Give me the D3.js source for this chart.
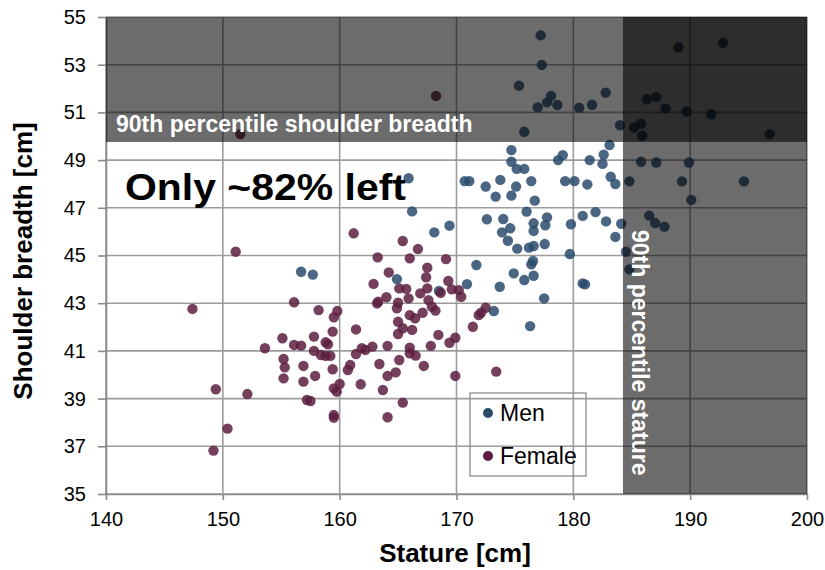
<!DOCTYPE html>
<html>
<head>
<meta charset="utf-8">
<script src="https://cdn.jsdelivr.net/npm/d3@7/dist/d3.min.js"></script>
<style>
  html, body { margin: 0; padding: 0; background: #fff; }
  svg { display: block; font-family: "Liberation Sans", Arial, sans-serif; }
</style>
</head>
<body>
<svg id="chart" width="825" height="570"></svg>
<script>
// Stature [cm] / shoulder breadth [cm] per subject
const menStature = [177.2,177.3,175.35,178.1,177.75,176.95,178.63,180.5,181.6,182.77,175.8,189.0,192.8,186.3,187.1,187.9,189.7,191.8,196.8,184.0,185.2,185.8,185.9,183.1,182.6,182.5,185.8,187.1,189.9,183.2,183.6,184.8,189.3,194.6,190.1,186.5,187.0,187.8,182.8,184.1,183.6,184.5,184.8,165.9,166.2,168.1,169.4,164.9,168.5,170.9,170.7,171.1,172.5,173.75,175.1,176.4,174.7,174.7,175.15,175.8,178.7,179.1,179.3,180.1,181.2,181.4,173.35,174.7,176.7,176.0,177.75,172.6,174.0,174.6,173.9,176.6,177.6,176.6,174.4,175.2,176.2,176.6,177.55,179.8,180.8,181.9,179.7,176.4,176.55,171.7,174.9,175.8,176.6,173.7,180.8,181.0,177.5,173.2,176.3,156.7,157.7];
const menBreadth = [54.23,52.99,52.12,51.69,51.42,51.21,51.31,51.2,51.32,51.83,50.19,53.73,53.92,51.55,51.65,51.16,51.03,50.92,50.09,50.46,50.37,50.53,50.02,49.63,49.23,48.84,48.93,48.9,48.9,48.3,48.0,48.11,48.11,48.11,47.33,46.67,46.36,46.21,46.43,46.33,45.78,45.16,44.42,48.24,46.85,45.97,46.25,44.01,43.51,43.8,48.12,48.12,47.89,48.17,47.89,48.12,49.42,48.93,48.63,48.63,49.0,49.21,48.12,48.12,47.98,49.0,47.47,47.51,47.3,46.84,46.6,46.52,46.53,46.14,45.97,46.35,46.27,46.03,45.62,45.29,45.33,45.4,45.48,46.31,46.66,46.82,45.06,44.63,44.77,44.6,44.25,43.97,44.15,43.69,43.83,43.79,43.2,42.67,42.04,44.32,44.2];

const femaleStature = [151.5,168.25,161.2,151.1,147.4,156.1,158.2,159.8,159.5,159.4,161.4,155.1,157.8,153.6,156.1,156.7,157.8,158.8,159.0,155.2,155.3,155.2,156.9,156.9,157.9,158.4,158.8,159.2,159.4,159.5,159.75,160.0,157.2,157.5,159.5,159.5,149.4,152.1,150.4,149.2,160.7,160.9,161.4,161.8,161.9,162.2,162.8,164.1,163.4,164.1,164.8,165.1,166.0,166.5,167.2,163.7,165.4,164.1,167.8,169.4,169.9,173.4,165.4,166.7,166.0,163.25,169.1,164.2,167.5,167.4,162.9,165.1,165.7,167.5,169.3,169.6,170.2,170.4,168.65,163.3,163.2,164.0,165.9,166.9,165.0,164.9,167.6,167.9,168.2,167.1,166.0,166.45,165.0,165.4,166.2,165.0,168.45,169.9,171.4,171.9,172.1,172.5,166.0];
const femaleBreadth = [50.09,51.69,45.93,45.16,42.76,43.04,42.71,42.67,42.41,41.81,41.9,41.53,41.6,41.11,41.25,41.22,41.0,41.36,41.28,40.66,40.31,39.85,40.37,39.71,39.95,40.83,40.79,40.79,40.23,39.43,39.29,39.61,38.94,38.9,38.31,38.2,39.39,39.19,37.74,36.82,40.2,40.41,40.87,39.6,41.11,41.04,41.18,41.21,40.45,39.95,40.1,40.62,40.9,40.8,40.37,39.36,38.83,38.22,41.21,41.34,39.95,40.13,45.61,45.27,44.88,44.92,44.85,44.29,44.49,44.09,43.81,43.62,43.6,43.62,43.93,43.58,43.55,43.27,43.44,43.06,42.99,43.25,43.2,43.41,43.02,42.79,43.13,42.85,42.69,42.6,42.5,42.37,42.22,41.95,41.88,41.71,41.67,41.55,42.01,42.5,42.6,42.81,41.13];

const seriesNames = ["Men", "Female"];
const seriesColors = ["#2a4b6c", "#5c1e40"];

const xTicks = [140, 150, 160, 170, 180, 190, 200];
const yTicks = [35, 37, 39, 41, 43, 45, 47, 49, 51, 53, 55];

// 90th percentile thresholds
const p90Stature = 184.25;
const p90Breadth = 49.76;

const svg = d3.select("#chart");
const margin = { left: 106, top: 17, right: 18, bottom: 76 };
const W = 825 - margin.left - margin.right;
const H = 570 - margin.top - margin.bottom;

const x = d3.scaleLinear().domain([140, 200]).range([0, W]);
const y = d3.scaleLinear().domain([35, 55]).range([H, 0]);

const g = svg.append("g").attr("transform", `translate(${margin.left},${margin.top})`);

// grid
g.append("g").selectAll("line").data(xTicks).join("line")
  .attr("x1", d => x(d)).attr("x2", d => x(d))
  .attr("y1", 0).attr("y2", H)
  .attr("stroke", "#9c9c9c").attr("stroke-width", 1.6);
g.append("g").selectAll("line").data(yTicks).join("line")
  .attr("x1", 0).attr("x2", W)
  .attr("y1", d => y(d)).attr("y2", d => y(d))
  .attr("stroke", "#9c9c9c").attr("stroke-width", 1.6);

// axes
const xAxis = g.append("g").attr("transform", `translate(0,${H})`)
  .call(d3.axisBottom(x).tickValues(xTicks).tickSize(6).tickSizeOuter(0).tickPadding(12).tickFormat(d3.format("d")));
const yAxis = g.append("g")
  .call(d3.axisLeft(y).tickValues(yTicks).tickSize(8).tickSizeOuter(0).tickPadding(12).tickFormat(d3.format("d")));
[xAxis, yAxis].forEach(a => {
  a.select(".domain").attr("stroke", "#8a8a8a").attr("stroke-width", 1.6);
  a.selectAll(".tick line").attr("stroke", "#8a8a8a").attr("stroke-width", 1.6);
  a.selectAll(".tick text").attr("fill", "#000").style("font-size", "20px")
    .style("font-family", "'Liberation Sans', Arial, sans-serif");
});

// points
const series = [
  { name: seriesNames[0], color: seriesColors[0], xs: menStature, ys: menBreadth },
  { name: seriesNames[1], color: seriesColors[1], xs: femaleStature, ys: femaleBreadth }
];
series.forEach(s => {
  g.append("g").selectAll("circle").data(s.xs.map((v, i) => [v, s.ys[i]])).join("circle")
    .attr("cx", d => x(d[0])).attr("cy", d => y(d[1])).attr("r", 5.2)
    .attr("fill", s.color).attr("fill-opacity", 0.85);
});

// shaded regions above the 90th percentiles
const shade = g.append("g");
shade.append("rect")
  .attr("x", 0).attr("y", 0).attr("width", W).attr("height", y(p90Breadth))
  .attr("fill", "#000").attr("fill-opacity", 0.575);
shade.append("rect")
  .attr("x", x(p90Stature)).attr("y", 0).attr("width", W - x(p90Stature)).attr("height", H)
  .attr("fill", "#000").attr("fill-opacity", 0.575);

// annotations
g.append("text")
  .attr("x", 10).attr("y", y(p90Breadth) - 10)
  .attr("fill", "#fff").style("font-weight", "bold").style("font-size", "23px")
  .text("90th percentile shoulder breadth");

g.append("text")
  .attr("transform", `translate(${x(p90Stature) + 9},213) rotate(90)`)
  .attr("fill", "#fff").style("font-weight", "bold").style("font-size", "23px")
  .text("90th percentile stature");

g.append("text")
  .attr("x", 19).attr("y", 183)
  .attr("fill", "#000").style("font-weight", "bold").style("font-size", "37px")
  .attr("textLength", 281).attr("lengthAdjust", "spacingAndGlyphs")
  .text("Only ~82% left");

// axis titles
svg.append("text")
  .attr("x", 455).attr("y", 562).attr("text-anchor", "middle")
  .style("font-weight", "bold").style("font-size", "26px")
  .text("Stature [cm]");
svg.append("text")
  .attr("transform", "translate(32,261) rotate(-90)").attr("text-anchor", "middle")
  .style("font-weight", "bold").style("font-size", "26px")
  .text("Shoulder breadth [cm]");

// legend
const lg = svg.append("g").attr("transform", "translate(470,393)");
lg.append("rect").attr("width", 116).attr("height", 83)
  .attr("fill", "none").attr("stroke", "#8c8c8c").attr("stroke-width", 1.3);
series.forEach((s, i) => {
  const row = lg.append("g").attr("transform", `translate(0,${20 + i * 43})`);
  row.append("circle").attr("cx", 18).attr("cy", 0).attr("r", 5).attr("fill", s.color);
  row.append("text").attr("x", 30).attr("y", 8).style("font-size", "23px").text(s.name);
});
</script>
</body>
</html>
